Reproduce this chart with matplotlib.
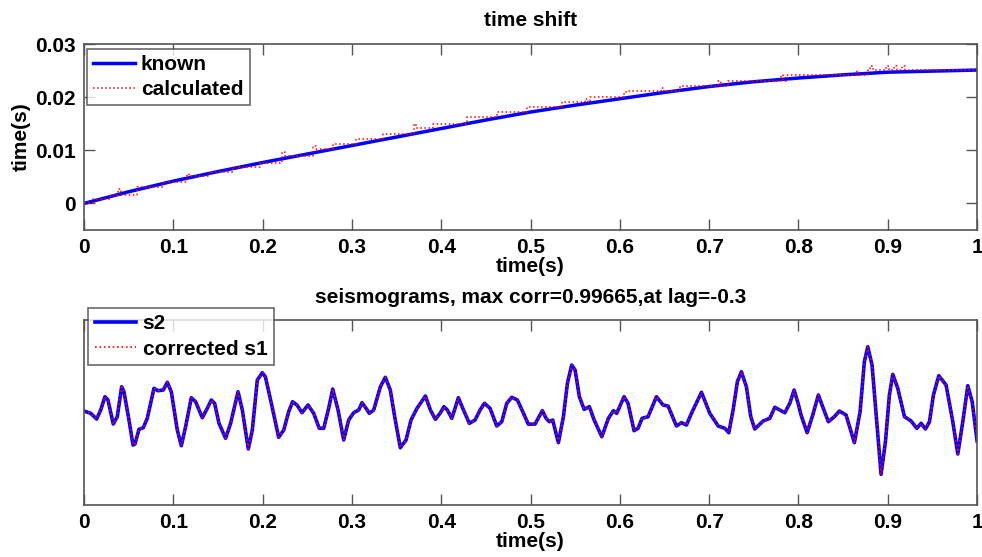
import matplotlib
matplotlib.use('Agg')
import matplotlib.pyplot as plt

plt.rcParams['font.family'] = ['Liberation Sans', 'DejaVu Sans']
plt.rcParams['font.weight'] = 'bold'
plt.rcParams['font.size'] = 15

# known time shift (s)
known_t = [0.0, 0.05, 0.1, 0.15, 0.2, 0.25, 0.3, 0.35, 0.4, 0.45, 0.5,
           0.55, 0.6, 0.65, 0.7, 0.75, 0.8, 0.85, 0.9, 0.95, 1.0]
known_v = [0.0, 0.0022, 0.0042, 0.0060, 0.0077, 0.0093, 0.0109, 0.0125, 0.0141, 0.0157, 0.0172,
           0.0185, 0.0197, 0.0209, 0.0220, 0.0229, 0.0236, 0.0242, 0.0247, 0.0249, 0.0251]

# calculated time shift (stepped, with small spikes)
calc_t = [0.000, 0.010, 0.029, 0.038, 0.041, 0.059, 0.089, 0.115, 0.118, 0.141,
          0.167, 0.197, 0.222, 0.225, 0.257, 0.260, 0.279, 0.305, 0.335, 0.369,
          0.372, 0.391, 0.429, 0.462, 0.496, 0.535, 0.561, 0.564, 0.567, 0.605,
          0.608, 0.646, 0.649, 0.667, 0.710, 0.713, 0.721, 0.780, 0.783, 0.786,
          0.865, 0.868, 0.878, 0.880, 0.883, 0.898, 0.901, 0.907, 0.910, 0.916,
          0.919, 1.0]
calc_v = [0.0000, 0.0009, 0.0016, 0.0028, 0.0016, 0.0031, 0.0040, 0.0055, 0.0052, 0.0059,
          0.0068, 0.0077, 0.0097, 0.0090, 0.0108, 0.0103, 0.0111, 0.0122, 0.0131, 0.0149,
          0.0142, 0.0149, 0.0162, 0.0172, 0.0181, 0.0191, 0.0197, 0.0191, 0.0201, 0.0210,
          0.0212, 0.0218, 0.0212, 0.0221, 0.0231, 0.0221, 0.0231, 0.0241, 0.0231, 0.0241,
          0.0250, 0.0241, 0.0251, 0.0258, 0.0251, 0.0258, 0.0251, 0.0258, 0.0251, 0.0258,
          0.0251, 0.0251]

# seismogram (arbitrary amplitude units)
seis_t = [0.0000, 0.0075, 0.0142, 0.0187, 0.0235, 0.0269, 0.0328, 0.0373, 0.0422, 0.0448,
          0.0504, 0.0549, 0.0571, 0.0616, 0.0664, 0.0709, 0.0784, 0.0829, 0.0888, 0.0933,
          0.0978, 0.1045, 0.1090, 0.1138, 0.1202, 0.1250, 0.1325, 0.1381, 0.1426, 0.1463,
          0.1512, 0.1586, 0.1642, 0.1725, 0.1773, 0.1840, 0.1885, 0.1941, 0.1997, 0.2031,
          0.2098, 0.2180, 0.2237, 0.2292, 0.2336, 0.2385, 0.2441, 0.2508, 0.2572, 0.2635,
          0.2684, 0.2740, 0.2785, 0.2845, 0.2908, 0.2964, 0.3020, 0.3076, 0.3113, 0.3151,
          0.3195, 0.3244, 0.3319, 0.3374, 0.3430, 0.3479, 0.3542, 0.3606, 0.3662, 0.3729,
          0.3823, 0.3879, 0.3935, 0.3987, 0.4031, 0.4069, 0.4118, 0.4155, 0.4192, 0.4241,
          0.4315, 0.4379, 0.4435, 0.4484, 0.4547, 0.4622, 0.4678, 0.4734, 0.4790, 0.4853,
          0.4913, 0.4976, 0.5051, 0.5095, 0.5133, 0.5174, 0.5211, 0.5248, 0.5312, 0.5368,
          0.5413, 0.5461, 0.5499, 0.5547, 0.5600, 0.5659, 0.5712, 0.5798, 0.5872, 0.5928,
          0.5965, 0.6047, 0.6092, 0.6159, 0.6204, 0.6249, 0.6316, 0.6410, 0.6484, 0.6540,
          0.6634, 0.6690, 0.6746, 0.6802, 0.6914, 0.7007, 0.7101, 0.7175, 0.7220, 0.7268,
          0.7316, 0.7361, 0.7417, 0.7466, 0.7511, 0.7604, 0.7679, 0.7735, 0.7791, 0.7847,
          0.7903, 0.7951, 0.7996, 0.8029, 0.8097, 0.8160, 0.8223, 0.8271, 0.8335, 0.8402,
          0.8458, 0.8533, 0.8626, 0.8690, 0.8738, 0.8776, 0.8824, 0.8888, 0.8925, 0.8974,
          0.9018, 0.9056, 0.9112, 0.9187, 0.9261, 0.9325, 0.9373, 0.9422, 0.9467, 0.9511,
          0.9571, 0.9653, 0.9728, 0.9784, 0.9840, 0.9896, 0.9945, 1.0000]
seis_v = [1.5, -0.8, -6.5, 2.5, 15.8, 12.5, -11.5, -4.2, 25.8, 20.8,
          -7.5, -32.5, -31.5, -16.8, -15.2, -5.8, 24.2, 21.8, 22.5, 30.2,
          20.8, -17.5, -33.2, -14.2, 14.8, 10.8, -5.2, 4.2, 12.5, 9.2,
          -10.8, -25.8, -10.8, 20.8, 2.5, -36.5, -17.5, 32.5, 39.8, 35.8,
          9.2, -24.8, -17.5, 0.8, 10.8, 7.5, -0.2, 7.5, -0.8, -15.8,
          -15.8, 4.2, 23.5, 2.5, -27.5, -7.5, -0.2, 2.5, 9.8, 5.2,
          -0.8, 2.5, 25.8, 35.2, 22.5, -4.2, -35.2, -27.5, -7.5, 4.2,
          16.5, 2.5, -6.8, -0.8, 5.8, 2.5, -5.8, 4.2, 14.8, 4.2,
          -10.8, -7.5, 2.5, 9.2, 4.2, -13.5, -9.2, 9.2, 15.2, 12.5,
          0.8, -11.8, -11.5, -4.2, 1.8, -5.8, -9.2, -7.5, -30.2, -4.2,
          29.2, 47.5, 42.5, 15.8, 3.2, 5.8, -7.5, -24.2, -5.8, 1.8,
          -0.8, 15.8, 9.2, -18.2, -15.8, -5.8, -4.2, 15.8, 7.5, 6.5,
          -13.5, -10.2, -12.5, -0.8, 20.2, -0.8, -13.5, -15.8, -20.2, 2.5,
          30.8, 40.8, 25.8, -4.2, -16.5, -8.5, -5.8, 5.2, 2.5, -0.2,
          9.2, 22.5, 9.2, -2.5, -20.2, -2.5, 17.5, 5.8, -9.2, -4.2,
          1.5, -2.5, -30.2, 0.8, 50.8, 65.8, 47.5, -22.5, -61.8, -29.2,
          17.5, 38.2, 24.2, -4.2, -8.5, -15.8, -10.8, -16.5, -9.2, 17.5,
          36.8, 27.5, -9.2, -41.5, -9.2, 26.8, 10.8, -28.5]

xticks = [0, 0.1, 0.2, 0.3, 0.4, 0.5, 0.6, 0.7, 0.8, 0.9, 1]
xlabels = ['0', '0.1', '0.2', '0.3', '0.4', '0.5', '0.6', '0.7', '0.8', '0.9', '1']

fig = plt.figure(figsize=(9.82, 5.57), dpi=100)
ax1 = fig.add_axes([0.0855, 0.587, 0.9095, 0.334])
ax2 = fig.add_axes([0.0855, 0.0934, 0.9095, 0.332])

spine_col = '#555555'
for ax in (ax1, ax2):
    for s in ax.spines.values():
        s.set_color(spine_col)
        s.set_linewidth(1.2)
    ax.tick_params(direction='in', length=8, width=1, color=spine_col,
                   top=True, right=True, labelsize=15, pad=6)
    ax.set_xlim(0, 1)
    ax.set_xticks(xticks)
    ax.set_xticklabels(xlabels, fontweight='bold')
    ax.set_xlabel('time(s)', fontweight='bold', labelpad=0)

# top: time shift
ax1.plot(known_t, known_v, color='#0000ff', linewidth=2.5, label='known')
ax1.plot(calc_t, calc_v, color='#ff0000', linewidth=1.1, linestyle=':',
         drawstyle='steps-post', label='calculated')
ax1.set_ylim(-0.005, 0.03)
ax1.set_yticks([0, 0.01, 0.02, 0.03])
ax1.set_yticklabels(['0', '0.01', '0.02', '0.03'], fontweight='bold')
ax1.set_ylabel('time(s)', fontweight='bold', labelpad=3)
ax1.set_title('time shift', fontweight='bold', fontsize=15, pad=13)
leg1 = ax1.legend(loc='upper left', bbox_to_anchor=(0.003, 0.975), fancybox=False,
                  edgecolor='#444444', handlelength=2.0, handletextpad=0.3,
                  borderpad=0.3, labelspacing=0.3, borderaxespad=0.0,
                  prop={'weight': 'bold', 'size': 15})
leg1.get_frame().set_linewidth(1.2)

# bottom: seismograms
ax2.plot(seis_t, seis_v, color='#0000ff', linewidth=2.6, solid_joinstyle='round',
         label='s2')
ax2.plot(seis_t, seis_v, color='#ff0000', linewidth=1.2, linestyle=':',
         dash_joinstyle='round', label='corrected s1')
ax2.set_ylim(-92.5, 92.5)
ax2.set_yticks([])
ax2.set_title('seismograms, max corr=0.99665,at lag=-0.3', fontweight='bold',
              fontsize=15, pad=12)
leg2 = ax2.legend(loc='upper left', bbox_to_anchor=(0.005, 1.065), fancybox=False,
                  edgecolor='#444444', handlelength=2.0, handletextpad=0.3,
                  borderpad=0.3, labelspacing=0.3, borderaxespad=0.0,
                  prop={'weight': 'bold', 'size': 15})
leg2.get_frame().set_linewidth(1.2)

fig.savefig('out.png', dpi=100, facecolor='white')
